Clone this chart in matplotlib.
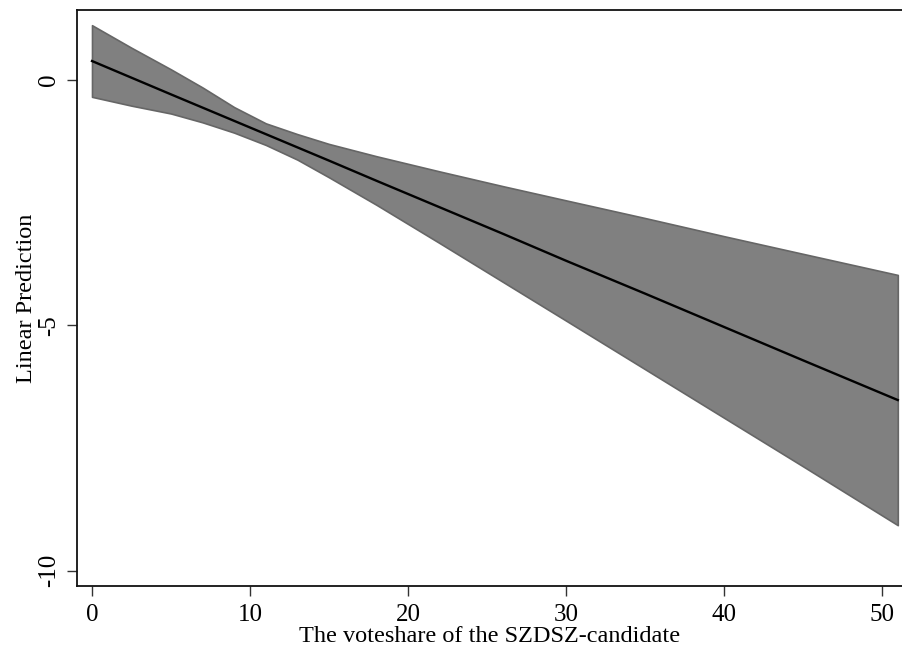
import matplotlib

matplotlib.use("Agg")
import matplotlib.pyplot as plt

# values (linear prediction with 95% CI)
voteshare = [0, 2.5, 5, 7, 9, 11, 13, 15, 18, 22, 26, 30, 35, 40, 45, 51]
pred = [0.39, 0.05, -0.29, -0.56, -0.83, -1.10, -1.37, -1.64, -2.05, -2.59,
        -3.13, -3.68, -4.35, -5.03, -5.71, -6.52]
ci_upper = [1.12, 0.66, 0.22, -0.15, -0.55, -0.88, -1.10, -1.30, -1.55, -1.86,
            -2.16, -2.45, -2.81, -3.18, -3.54, -3.97]
ci_lower = [-0.34, -0.52, -0.68, -0.86, -1.07, -1.32, -1.62, -1.98, -2.54, -3.32,
            -4.11, -4.90, -5.89, -6.88, -7.87, -9.07]

XTICKS = [0, 10, 20, 30, 40, 50]
YTICKS = [0, -5, -10]

plt.rcParams["font.family"] = ["Liberation Serif", "DejaVu Serif"]

fig = plt.figure(figsize=(9.03, 6.5), dpi=100)
ax = fig.add_axes([77 / 903, 1 - 586 / 650, 1 - 77 / 903, (586 - 10) / 650])

ax.fill_between(voteshare, ci_lower, ci_upper, facecolor="#808080",
                edgecolor="#666666", linewidth=1.2, zorder=2)
ax.plot(voteshare, pred, color="black", linewidth=1.7, zorder=3)

ax.set_xlim(-0.95, 51.33)
ax.set_ylim(-10.31, 1.43)
ax.set_xticks(XTICKS)
ax.set_yticks(YTICKS)
ax.set_yticklabels([str(v) for v in YTICKS], rotation=90, va="center")

ax.spines["right"].set_visible(False)
for s in ("left", "top", "bottom"):
    ax.spines[s].set_linewidth(1.3)
    ax.spines[s].set_color("#111111")

ax.tick_params(axis="both", direction="out", length=7.2, width=1.0,
               color="#333333", labelsize=18)
ax.tick_params(axis="x", pad=6)
ax.tick_params(axis="y", pad=5)

ax.set_xlabel("The voteshare of the SZDSZ-candidate", fontsize=17.5, labelpad=0)
ax.set_ylabel("Linear Prediction", fontsize=17.5, labelpad=1)

fig.savefig("out.png", dpi=100)
